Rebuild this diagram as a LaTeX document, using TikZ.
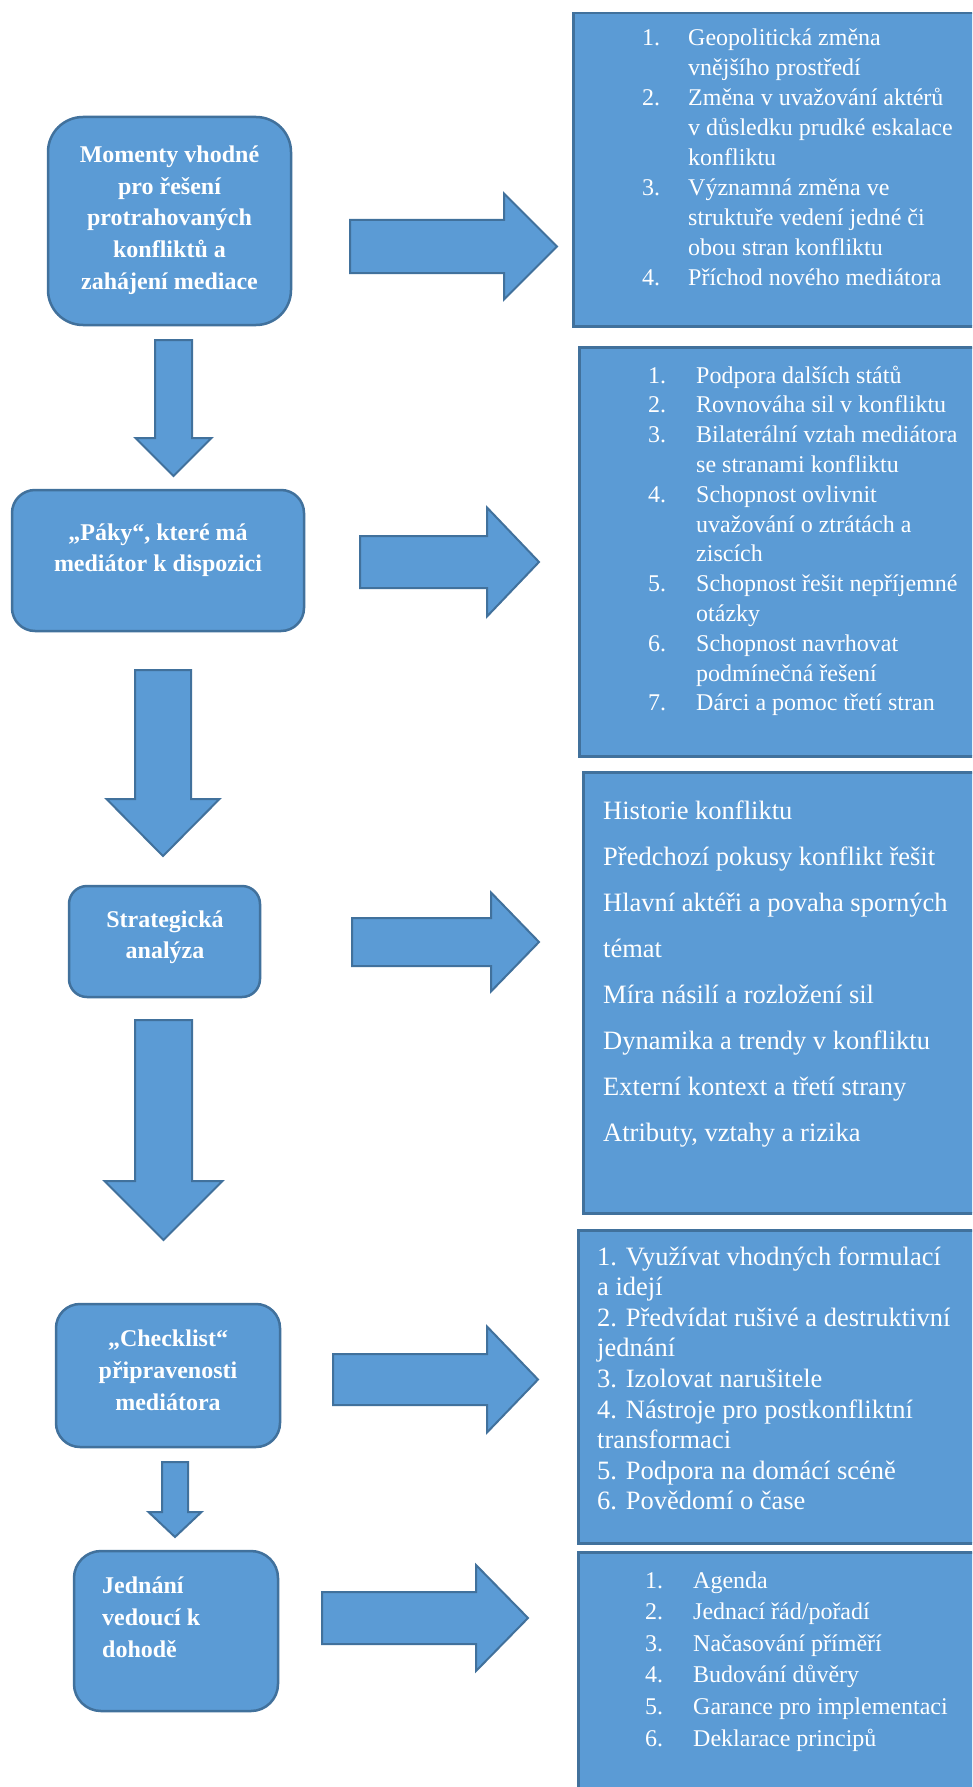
\documentclass[tikz,border=0pt]{standalone}
\usepackage{fontspec}
\setmainfont{Liberation Serif}
\usepackage{array}

\definecolor{boxfill}{HTML}{5B9BD5}
\definecolor{boxline}{HTML}{41719C}

% block arrow pointing right: x start, x head base, x tip, y centre, half shaft, half head
\newcommand{\rightblock}[6]{%
  \filldraw[blockarrow] ({#1},{#4-#5}) -- ({#2},{#4-#5}) -- ({#2},{#4-#6}) -- ({#3},{#4})
    -- ({#2},{#4+#6}) -- ({#2},{#4+#5}) -- ({#1},{#4+#5}) -- cycle;}
% block arrow pointing down: x centre, y start, y head base, y tip, half shaft, half head
\newcommand{\downblock}[6]{%
  \filldraw[blockarrow] ({#1-#5},{#2}) -- ({#1-#5},{#3}) -- ({#1-#6},{#3}) -- ({#1},{#4})
    -- ({#1+#6},{#3}) -- ({#1+#5},{#3}) -- ({#1+#5},{#2}) -- cycle;}

\begin{document}
\begin{tikzpicture}[x=1pt,y=-1pt,
  lbox/.style={draw=boxline, fill=boxfill, line width=2.5pt, inner sep=0pt},
  rbox/.style={draw=boxline, fill=boxfill, line width=2.5pt, inner sep=0pt, anchor=north west},
  blockarrow/.style={draw=boxline, fill=boxfill, line width=2pt, line join=miter},
  ltext/.style={text=white, inner sep=0pt, anchor=base},
  listtext/.style={text=white, inner sep=0pt, anchor=base west},
]
\useasboundingbox (0,0) rectangle (972,1787);
\clip (0,0) rectangle (972,1787);
\fill[white] (0,0) rectangle (972,1787);

% ---------- left column: rounded steps ----------
\node[lbox, minimum width=243pt, minimum height=208pt, rounded corners=35pt] (b1) at (169.5,221) {};
\node[lbox, minimum width=292pt, minimum height=141pt, rounded corners=23pt] (b2) at (158,560.5) {};
\node[lbox, minimum width=191pt, minimum height=111pt, rounded corners=18pt] (b3) at (164.5,941.5) {};
\node[lbox, minimum width=224pt, minimum height=143pt, rounded corners=24pt] (b4) at (168,1375.5) {};
\node[lbox, minimum width=204pt, minimum height=160pt, rounded corners=27pt] (b5) at (176,1631) {};

\node[ltext, font=\bfseries\fontsize{24}{31.75}\selectfont] (t1) at (169.5,162.5)
  {\begin{tabular}[t]{@{}c@{}}Momenty vhodné\\pro řešení\\protrahovaných\\konfliktů a\\zahájení mediace\end{tabular}};
\node[ltext, font=\bfseries\fontsize{24}{31}\selectfont] (t2) at (158,540)
  {\begin{tabular}[t]{@{}c@{}}„Páky“, které má\\mediátor k dispozici\end{tabular}};
\node[ltext, font=\bfseries\fontsize{24}{31}\selectfont] (t3) at (165,927)
  {\begin{tabular}[t]{@{}c@{}}Strategická\\analýza\end{tabular}};
\node[ltext, font=\bfseries\fontsize{24}{32}\selectfont] (t4) at (168,1346)
  {\begin{tabular}[t]{@{}c@{}}„Checklist“\\připravenosti\\mediátora\end{tabular}};
\node[listtext, font=\bfseries\fontsize{24}{32}\selectfont] (t5) at (102,1593)
  {\begin{tabular}[t]{@{}l@{}}Jednání\\vedoucí k\\dohodě\end{tabular}};

% ---------- right column: detail boxes ----------
\node[rbox, minimum width=420pt, minimum height=313pt] (r1) at (572,12) {};
\node[rbox, minimum width=414pt, minimum height=409pt] (r2) at (578,346) {};
\node[rbox, minimum width=410pt, minimum height=441pt] (r3) at (582,771) {};
\node[rbox, minimum width=415pt, minimum height=313pt] (r4) at (577,1229) {};
\node[rbox, minimum width=415pt, minimum height=260pt] (r5) at (577,1551) {};

\node[listtext, font=\fontsize{24}{29.9}\selectfont] (l1) at (642,46)
  {\begin{tabular}[t]{@{}p{46pt}@{}l@{}}
   1. & Geopolitická změna\\
      & vnějšího prostředí\\
   2. & Změna v uvažování aktérů\\
      & v důsledku prudké eskalace\\
      & konfliktu\\
   3. & Významná změna ve\\
      & struktuře vedení jedné či\\
      & obou stran konfliktu\\
   4. & Příchod nového mediátora
   \end{tabular}};

\node[listtext, font=\fontsize{24}{29.8}\selectfont] (l2) at (648,383)
  {\begin{tabular}[t]{@{}p{48pt}@{}l@{}}
   1. & Podpora dalších států\\
   2. & Rovnováha sil v konfliktu\\
   3. & Bilaterální vztah mediátora\\
      & se stranami konfliktu\\
   4. & Schopnost ovlivnit\\
      & uvažování o ztrátách a\\
      & ziscích\\
   5. & Schopnost řešit nepříjemné\\
      & otázky\\
   6. & Schopnost navrhovat\\
      & podmínečná řešení\\
   7. & Dárci a pomoc třetí stran
   \end{tabular}};

\node[listtext, font=\fontsize{26.5}{46.1}\selectfont] (l3) at (603,819)
  {\begin{tabular}[t]{@{}l@{}}
   Historie konfliktu\\
   Předchozí pokusy konflikt řešit\\
   Hlavní aktéři a povaha sporných\\
   témat\\
   Míra násilí a rozložení sil\\
   Dynamika a trendy v konfliktu\\
   Externí kontext a třetí strany\\
   Atributy, vztahy a rizika
   \end{tabular}};

\node[listtext, font=\fontsize{26.5}{30.6}\selectfont] (l4) at (597,1265)
  {\begin{tabular}[t]{@{}l@{}}
   1. Využívat vhodných formulací\\
   a idejí\\
   2. Předvídat rušivé a destruktivní\\
   jednání\\
   3. Izolovat narušitele\\
   4. Nástroje pro postkonfliktní\\
   transformaci\\
   5. Podpora na domácí scéně\\
   6. Povědomí o čase
   \end{tabular}};

\node[listtext, font=\fontsize{24}{31.6}\selectfont] (l5) at (645,1588)
  {\begin{tabular}[t]{@{}p{48pt}@{}l@{}}
   1. & Agenda\\
   2. & Jednací řád/pořadí\\
   3. & Načasování příměří\\
   4. & Budování důvěry\\
   5. & Garance pro implementaci\\
   6. & Deklarace principů
   \end{tabular}};

% ---------- block arrows ----------
\rightblock{350}{504}{557}{246.5}{26.5}{53}
\rightblock{360}{487}{539}{562}{26}{54.5}
\rightblock{352}{491}{539}{942}{24}{49.5}
\rightblock{333}{487}{538}{1379.5}{25.5}{53}
\rightblock{322}{476}{528}{1618}{26}{53}

\downblock{173.5}{340}{438}{476}{18.5}{38}
\downblock{163}{670}{799}{856}{28}{56.5}
\downblock{163.5}{1020}{1181}{1240}{28.5}{59}
\downblock{175}{1462}{1512}{1537}{13}{26.5}
\end{tikzpicture}
\end{document}
